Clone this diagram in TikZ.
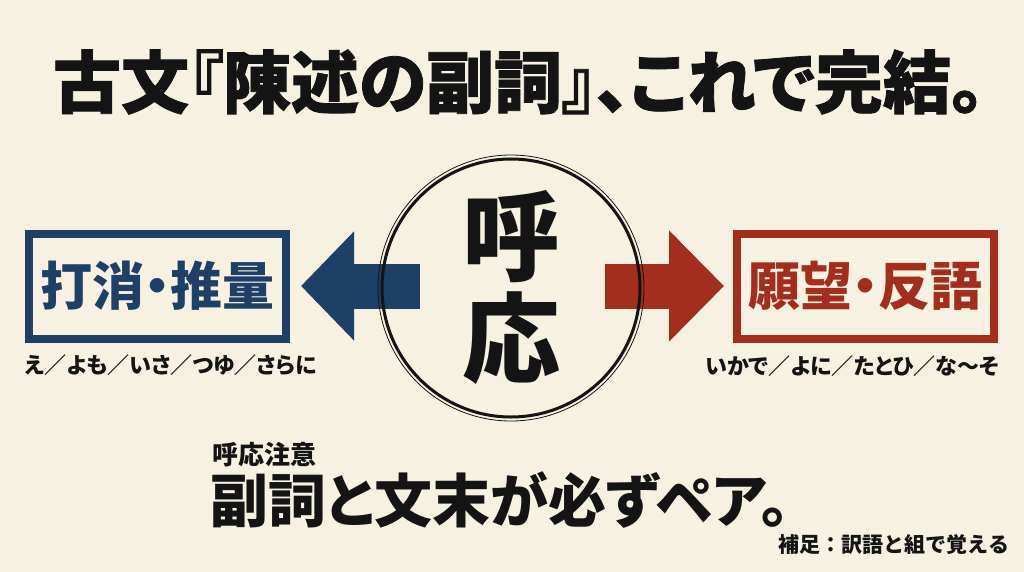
\documentclass[tikz,border=0pt]{standalone}
\usepackage{fontspec}
\setmainfont{Noto Sans CJK JP}[RawFeature=+palt]
\newfontfamily\jpfull{Noto Sans CJK JP}
\newfontfamily\jpheavy{Noto Sans CJK JP}[RawFeature=+palt, BoldFeatures={FakeBold=1.2}]
\usetikzlibrary{arrows.meta}
\definecolor{paper}{HTML}{F7F1E1}
\definecolor{navy}{HTML}{1E3F66}
\definecolor{brick}{HTML}{A32E1D}
\definecolor{ink}{HTML}{141414}
\tikzset{
  txt/.style={inner sep=0pt, outer sep=0pt, text=ink, font=\bfseries},
  framebox/.style={draw, line width=8pt, rectangle, minimum width=257pt, minimum height=105pt, inner sep=0pt},
  bigarrow/.style={line width=45pt},
}
\begin{document}
\begin{tikzpicture}[x=1pt,y=-1pt]
\fill[paper] (0,0) rectangle (1024,572);
\useasboundingbox (0,0) rectangle (1024,572);

% title
\node[txt, font=\jpheavy\bfseries\fontsize{68}{72}\selectfont] (title) at (519,82) {古文『陳述の副詞』、これで完結。};

% boxes
\node[framebox, navy, text=navy, font=\bfseries\fontsize{52}{56}\selectfont] (leftbox) at (157.5,286) {打消・推量};
\node[framebox, brick, text=brick, font=\bfseries\fontsize{52}{56}\selectfont] (rightbox) at (865.5,286) {願望・反語};

% sub-labels
\node[txt, anchor=west, font=\bfseries\fontsize{22}{24}\selectfont] (lsub) at (25,365) {え／よも／いさ／つゆ／さらに};
\node[txt, anchor=east, font=\bfseries\fontsize{22}{24}\selectfont] (rsub) at (999,366) {いかで／よに／たとひ／な～そ};

% arrows
\coordinate (lstart) at (420,286);
\coordinate (rstart) at (605,286);
\draw[bigarrow, navy, -{Triangle[length=53pt,width=106pt]}, shorten >=11pt] (lstart) -- (leftbox.east);
\draw[bigarrow, brick, -{Triangle[length=55pt,width=108pt]}, shorten >=9pt] (rstart) -- (rightbox.west);

% hub circle
\node[circle, draw=ink, line width=3pt, minimum size=258pt, inner sep=0pt] (hub) at (511,288) {};
\draw[ink, line width=0.8pt] (hub.center) circle[radius=133pt];
\node[txt, align=center, font=\bfseries\fontsize{98}{102}\selectfont] (hubtext) at (511,287) {呼\\応};

% bottom
\node[txt, anchor=west, font=\bfseries\fontsize{26}{28}\selectfont] (note) at (212,455) {呼応注意};
\node[txt, anchor=west, font=\bfseries\fontsize{58}{62}\selectfont] (rule) at (210,500) {副詞と文末が必ずペア。};
\node[txt, anchor=east, font=\jpfull\bfseries\fontsize{21}{23}\selectfont] (hint) at (1009,545) {補足：訳語と組で覚える};
\end{tikzpicture}
\end{document}
